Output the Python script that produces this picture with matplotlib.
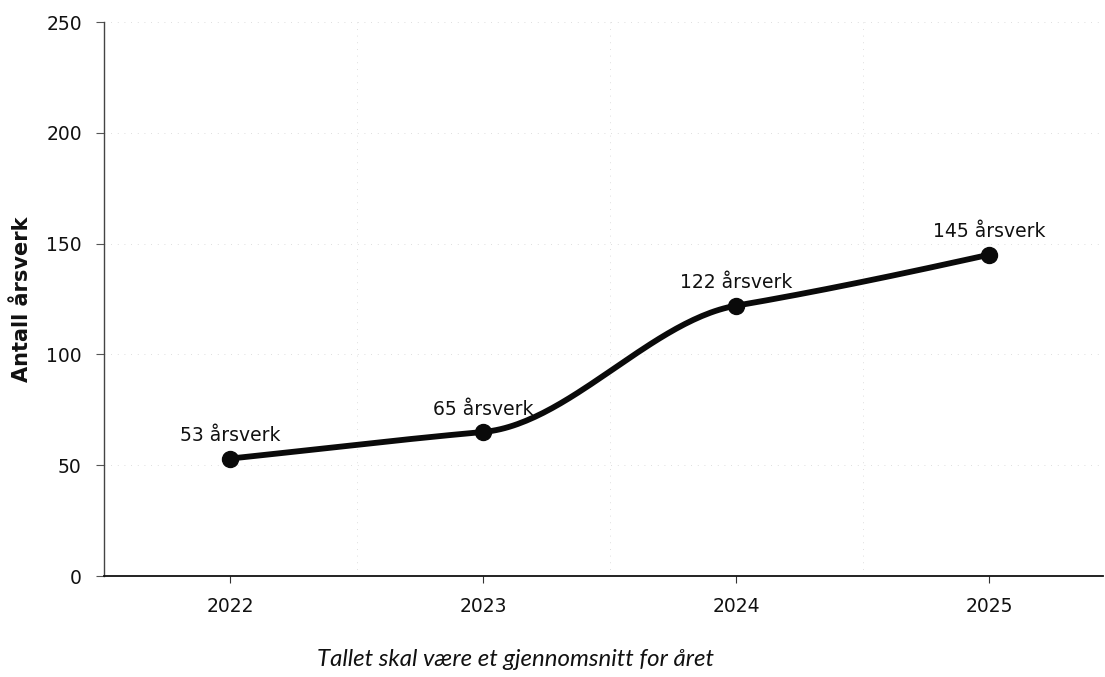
import matplotlib.pyplot as plt
import matplotlib.ticker as ticker
import numpy as np

years = [2022, 2023, 2024, 2025]
aarsverk = [53, 65, 122, 145]
labels = ['53 årsverk', '65 årsverk', '122 årsverk', '145 årsverk']
y_ticks = [0, 50, 100, 150, 200, 250]
caption = 'Tallet skal være et gjennomsnitt for året'


def smooth(x, y, n=60):
    # cubic hermite, tangent = smallest neighbouring secant (keeps the S shapes flat at the points)
    x = np.asarray(x, float)
    y = np.asarray(y, float)
    s = np.diff(y) / np.diff(x)
    m = np.empty_like(y)
    m[0] = s[0]
    m[-1] = s[-1] * 1.1
    for i in range(1, len(y) - 1):
        if s[i - 1] * s[i] <= 0:
            m[i] = 0
        else:
            m[i] = np.sign(s[i]) * min(abs(s[i - 1]), abs(s[i])) * 0.85
    xs, ys = [], []
    for i in range(len(x) - 1):
        h = x[i + 1] - x[i]
        t = np.linspace(0, 1, n)
        h00 = 2 * t**3 - 3 * t**2 + 1
        h10 = t**3 - 2 * t**2 + t
        h01 = -2 * t**3 + 3 * t**2
        h11 = t**3 - t**2
        xs.append(x[i] + t * h)
        ys.append(h00 * y[i] + h10 * h * m[i] + h01 * y[i + 1] + h11 * h * m[i + 1])
    return np.concatenate(xs), np.concatenate(ys)


plt.rcParams['font.family'] = 'DejaVu Sans'

fig = plt.figure(figsize=[11.05, 6.77], dpi=100)
ax = fig.add_axes([104 / 1105, 1 - 576 / 677, 999 / 1105, 554 / 677])

ax.set_xlim(2021.5, 2025.45)
ax.set_ylim(0, 250)
ax.set_xticks(years)
ax.set_xticklabels([str(y) for y in years])
ax.set_yticks(y_ticks)
ax.xaxis.set_minor_locator(ticker.FixedLocator([2022.5, 2023.5, 2024.5]))

ax.grid(True, axis='y', which='major', color='#d4d4d4', linestyle=(0, (1, 7)), linewidth=0.6)
ax.grid(True, axis='x', which='minor', color='#d4d4d4', linestyle=(0, (1, 7)), linewidth=0.6)
ax.set_axisbelow(True)

for side in ['top', 'right']:
    ax.spines[side].set_visible(False)
ax.spines['left'].set_color('#444444')
ax.spines['left'].set_linewidth(1.0)
ax.spines['bottom'].set_color('#111111')
ax.spines['bottom'].set_linewidth(1.3)

ax.tick_params(axis='y', which='major', length=6, pad=10, width=0.8, color='#555555',
               labelsize=13.5, labelcolor='#111111')
ax.tick_params(axis='x', which='major', length=5, pad=10, width=0.8, color='#333333',
               labelsize=13.5, labelcolor='#111111')
ax.tick_params(axis='x', which='minor', length=0)

xs, ys = smooth(years, aarsverk)
ax.plot(xs, ys, color='#0a0a0a', linewidth=4.2, solid_capstyle='round', zorder=3)
ax.plot(years, aarsverk, 'o', color='#0a0a0a', markersize=11.5, zorder=4)

for x, y, t in zip(years, aarsverk, labels):
    ax.annotate(t, (x, y), xytext=(0, 16.5), textcoords='offset points',
                ha='center', va='center', fontsize=13.5, color='#111111')

ax.set_ylabel('Antall årsverk', fontsize=15, fontweight='bold', color='#111111')
ax.yaxis.set_label_coords(-0.072, 0.5)

fig.text(317 / 1105, 1 - 660 / 677, caption, family='Lato', style='italic',
         fontsize=17.3, color='#111111', ha='left', va='center')

plt.savefig('out.png', dpi=100)
